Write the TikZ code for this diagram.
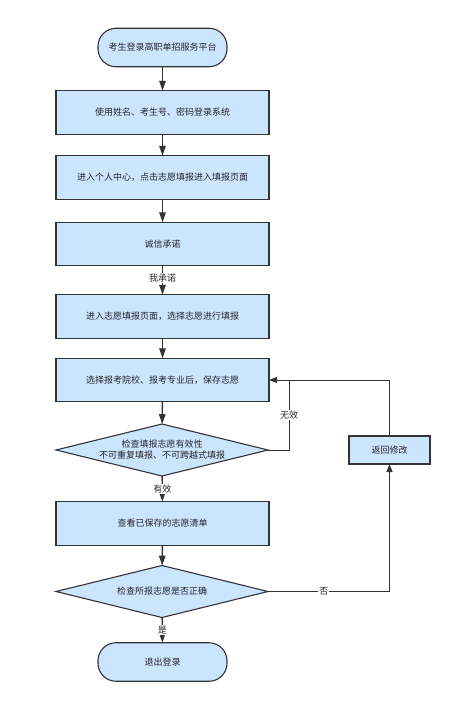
\documentclass[tikz,border=0pt]{standalone}
\usepackage{fontspec}
\setmainfont{Noto Sans CJK SC}
\usetikzlibrary{arrows.meta,shapes.geometric,positioning,calc}
\definecolor{boxblue}{HTML}{CCE5FF}
\definecolor{linegray}{HTML}{333333}

\begin{document}
\begin{tikzpicture}
[x=1pt,y=1pt,
every node/.style={font=\fontsize{9}{11}\selectfont,text=black!85,inner sep=0pt,outer sep=0pt},
stepbox/.style={rectangle,draw=linegray,fill=boxblue,line width=1.1pt,minimum width=213pt,minimum height=43.5pt},
termbox/.style={rectangle,rounded corners=18pt,draw=linegray,fill=boxblue,line width=1.1pt,minimum width=129pt,minimum height=38.5pt},
checkbox/.style={diamond,aspect=4.08,draw=linegray,fill=boxblue,line width=1.1pt,minimum width=212pt,minimum height=52pt,align=center},
backbox/.style={rectangle,draw=linegray,fill=boxblue,line width=1.1pt,minimum width=81pt,minimum height=28pt},
lab/.style={fill=white,inner sep=1pt},
myedge/.style={-{Triangle[length=10pt,width=6.5pt]},line width=1.4pt,linegray},
loopedge/.style={line width=0.9pt,linegray},
looparrow/.style={loopedge,-{Triangle[length=8pt,width=6pt]}}]
\useasboundingbox (0,0) rectangle (463,-704);
%% main column
\node (start) [termbox] at (162.5,-47.5) {考生登录高职单招服务平台};
\node (login) [stepbox] at (162.5,-112.5) {使用姓名、考生号、密码登录系统};
\node (center) [stepbox] at (162.5,-177.5) {进入个人中心，点击志愿填报进入填报页面};
\node (promise) [stepbox] at (162.5,-244) {诚信承诺};
\node (fill) [stepbox] at (162.5,-316.5) {进入志愿填报页面，选择志愿进行填报};
\node (save) [stepbox] at (162.5,-380) {选择报考院校、报考专业后，保存志愿};
\node (valid) [checkbox] at (162,-450) {检查填报志愿有效性\\不可重复填报、不可跨越式填报};
\node (list) [stepbox] at (162.5,-523.5) {查看已保存的志愿清单};
\node (right) [checkbox] at (162,-591.5) {检查所报志愿是否正确};
\node (quit) [termbox] at (162.5,-662) {退出登录};
%% side box
\node (back) [backbox] at (389.5,-450) {返回修改};
%% edges
\draw[myedge] (start) -- (login);
\draw[myedge] (login) -- (center);
\draw[myedge] (center) -- (promise);
\draw[myedge] (promise) -- node[lab,pos=0.42] {我承诺} (fill);
\draw[myedge] (fill) -- (save);
\draw[myedge] (save) -- (valid);
\draw[myedge] (valid) -- node[lab] {有效} (list);
\draw[myedge] (list) -- (right);
\draw[myedge] (right) -- node[lab] {是} (quit);
%% loop back
\coordinate (j) at ($(valid.east)+(21,0)$);
\draw[loopedge] (valid.east) -- (j) -- node[lab] {无效} (j |- save.east);
\draw[looparrow] (back.north) |- (save.east);
\draw[looparrow] (right.east) -| node[lab,pos=0.23] {否} (back.south);
\end{tikzpicture}
\end{document}
